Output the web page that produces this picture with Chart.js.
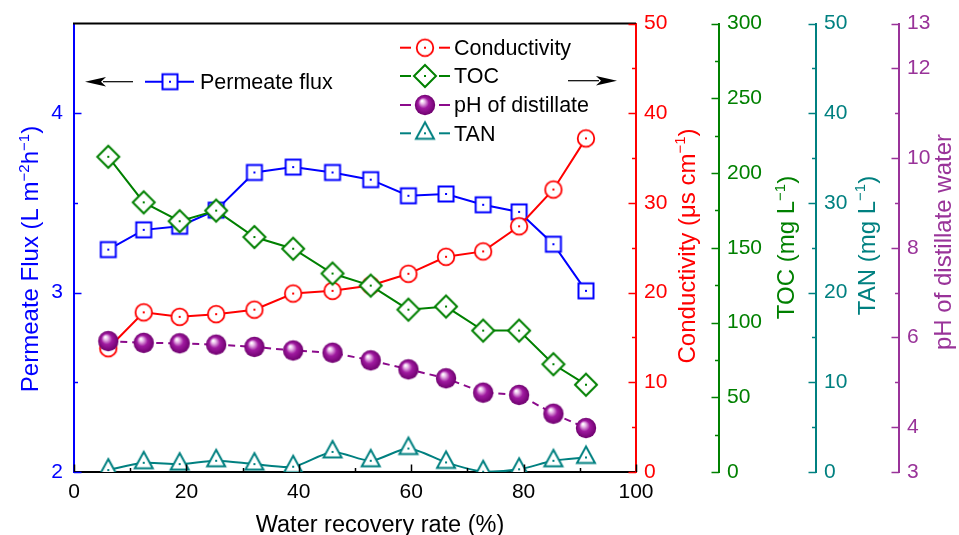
<!DOCTYPE html>
<html><head><meta charset="utf-8">
<script src="https://cdn.jsdelivr.net/npm/chart.js@4.4.1/dist/chart.umd.min.js"></script>
<style>html,body{margin:0;padding:0;background:#fff;overflow:hidden}#wrap{width:959px;height:535px;position:relative}</style>
</head><body><div id="wrap"><canvas id="c" width="959" height="535"></canvas></div>
<script>
// ---- data ----
const recovery = [6.1, 12.4, 18.8, 25.3, 32.1, 39.0, 46.0, 52.8, 59.5, 66.2, 72.8, 79.2, 85.3, 91.1];
const flux = [3.24, 3.35, 3.37, 3.46, 3.67, 3.70, 3.67, 3.63, 3.54, 3.55, 3.49, 3.45, 3.27, 3.01];
const conductivity = [13.8, 17.8, 17.3, 17.6, 18.1, 19.9, 20.2, 20.8, 22.1, 24.0, 24.6, 27.4, 31.5, 37.2];
const toc = [210.9, 180.4, 167.8, 174.9, 157.2, 149.4, 132.8, 124.7, 108.6, 110.7, 94.6, 94.6, 72.1, 58.4];
const phDistillate = [5.92, 5.88, 5.87, 5.84, 5.79, 5.71, 5.66, 5.49, 5.29, 5.09, 4.77, 4.72, 4.30, 3.98];
const tan = [0.22, 1.03, 0.88, 1.25, 0.88, 0.59, 2.24, 1.25, 2.62, 1.07, 0.03, 0.30, 1.25, 1.62];

// ---- tick labels ----
const xTicks = [0, 20, 40, 60, 80, 100];
const xMinor = [10, 30, 50, 70, 90];
const fluxTicks = [2, 3, 4];
const fluxMinor = [2.5, 3.5];
const condTicks = [0, 10, 20, 30, 40, 50];
const condMinor = [5, 15, 25, 35, 45];
const tocTicks = [0, 50, 100, 150, 200, 250, 300];
const tocMinor = [25, 75, 125, 175, 225, 275];
const tanTicks = [0, 10, 20, 30, 40, 50];
const tanMinor = [5, 15, 25, 35, 45];
const phTicks = [3, 4, 6, 8, 10, 12, 13];
const phMinor = [5, 7, 9, 11];

const legendRight = ['Conductivity', 'TOC', 'pH of distillate', 'TAN'];
const legendLeft = 'Permeate flux';

// ---- styles ----
const FONT = '"Liberation Sans", Arial, sans-serif';
const BLUE = '#0000FF', RED = '#FF0000', GREEN = '#008000', TEAL = '#008080', PURPLE = '#8B0A8B', PURPLE_AX = '#993399';

function mk(draw) {
  const c = document.createElement('canvas'); c.width = 30; c.height = 30;
  const g = c.getContext('2d'); draw(g, 15, 15); return c;
}
function dot(g, x, y, col) { g.fillStyle = col; g.fillRect(x - 1, y - 1, 2, 2); }
const imgSquare = mk((g, x, y) => { g.lineWidth = 2; g.fillStyle = '#fff'; g.strokeStyle = BLUE;
  g.fillRect(x - 7.5, y - 7.5, 15, 15); g.strokeRect(x - 7.5, y - 7.5, 15, 15); dot(g, x, y, BLUE); });
const imgCircle = mk((g, x, y) => { g.lineWidth = 1.8; g.fillStyle = '#fff'; g.strokeStyle = RED;
  g.beginPath(); g.arc(x, y, 8.3, 0, Math.PI * 2); g.fill(); g.stroke(); dot(g, x, y, RED); });
const imgDiamond = mk((g, x, y) => { g.lineWidth = 2; g.fillStyle = '#fff'; g.strokeStyle = GREEN;
  g.beginPath(); g.moveTo(x, y - 11); g.lineTo(x + 11, y); g.lineTo(x, y + 11); g.lineTo(x - 11, y); g.closePath();
  g.fill(); g.stroke(); dot(g, x, y, GREEN); });
const imgTriangle = mk((g, x, y) => { g.lineWidth = 2; g.fillStyle = '#fff'; g.strokeStyle = TEAL;
  g.beginPath(); g.moveTo(x, y - 11); g.lineTo(x + 9, y + 5.5); g.lineTo(x - 9, y + 5.5); g.closePath();
  g.fill(); g.stroke(); dot(g, x, y, TEAL); });
const imgSphere = mk((g, x, y) => {
  const r = 10.2;
  const gr = g.createRadialGradient(x - 3, y - 4, 0.5, x, y, r);
  gr.addColorStop(0, '#ffffff'); gr.addColorStop(0.18, '#e8b8e8'); gr.addColorStop(0.5, '#a01aa0'); gr.addColorStop(1, '#6e006e');
  g.fillStyle = gr; g.beginPath(); g.arc(x, y, r, 0, Math.PI * 2); g.fill(); });

const pts = arr => recovery.map((x, i) => ({ x: x, y: arr[i] }));
const fixTicks = arr => (s) => { s.ticks = arr.map(v => ({ value: v })); };

function yAxis(pos, min, max, ticks, color, width, pad) {
  return {
    type: 'linear', position: pos, min: min, max: max,
    afterBuildTicks: fixTicks(ticks),
    afterFit: (s) => { s.width = width; },
    grid: { display: false, drawTicks: false },
    border: { display: true, color: color, width: 2 },
    ticks: { color: color, font: { family: FONT, size: 21 }, padding: pad, autoSkip: false }
  };
}

function drawRich(ctx, segs, x, y, rot, size, color) {
  ctx.save(); ctx.translate(x, y); ctx.rotate(rot);
  ctx.fillStyle = color; ctx.textBaseline = 'alphabetic'; ctx.textAlign = 'left';
  const fN = size + 'px ' + FONT, fS = Math.round(size * 0.62) + 'px ' + FONT;
  let w = 0;
  segs.forEach(s => { ctx.font = s.sup ? fS : fN; w += ctx.measureText(s.t).width; });
  let cx = -w / 2;
  segs.forEach(s => { ctx.font = s.sup ? fS : fN; ctx.fillText(s.t, cx, s.sup ? -size * 0.38 : 0); cx += ctx.measureText(s.t).width; });
  ctx.restore();
}
function arrow(ctx, xFrom, xTip, y) {
  const dir = Math.sign(xTip - xFrom);
  ctx.save(); ctx.strokeStyle = '#000'; ctx.fillStyle = '#000'; ctx.lineWidth = 1.2;
  ctx.beginPath(); ctx.moveTo(xFrom, y); ctx.lineTo(xTip - dir * 18, y); ctx.stroke();
  ctx.beginPath(); ctx.moveTo(xTip, y); ctx.lineTo(xTip - dir * 21, y - 4.7); ctx.lineTo(xTip - dir * 16, y); ctx.lineTo(xTip - dir * 21, y + 4.7); ctx.closePath(); ctx.fill();
  ctx.restore();
}

const decor = {
  id: 'decor',
  afterDraw(chart) {
    const ctx = chart.ctx, a = chart.chartArea, S = chart.scales;
    ctx.save();
    // top frame line
    ctx.strokeStyle = '#000'; ctx.lineWidth = 2;
    ctx.beginPath(); ctx.moveTo(a.left - 1, a.top); ctx.lineTo(a.right, a.top); ctx.stroke();
    // inward tick marks
    const tickY = (sc, major, minor, color, side) => {
      ctx.strokeStyle = color; ctx.lineWidth = 1.5;
      const x0 = side === 'left' ? sc.right : sc.left;
      const d = side === 'left' ? 1 : -1;
      [[major, 7.5], [minor, 4]].forEach(([vals, len]) => vals.forEach(v => {
        const p = Math.round(sc.getPixelForValue(v)) + 0.5;
        ctx.beginPath(); ctx.moveTo(x0, p); ctx.lineTo(x0 + d * len, p); ctx.stroke();
      }));
    };
    tickY(S.y, fluxTicks, fluxMinor, BLUE, 'left');
    tickY(S.y1, condTicks, condMinor, RED, 'right');
    tickY(S.y2, tocTicks, tocMinor, GREEN, 'right');
    tickY(S.y3, tanTicks, tanMinor, TEAL, 'right');
    tickY(S.y4, phTicks, phMinor, PURPLE_AX, 'right');
    ctx.strokeStyle = '#000'; ctx.lineWidth = 1.5;
    [[xTicks, 7.5], [xMinor, 4]].forEach(([vals, len]) => vals.forEach(v => {
      const p = Math.round(S.x.getPixelForValue(v)) + 0.5;
      ctx.beginPath(); ctx.moveTo(p, a.bottom); ctx.lineTo(p, a.bottom - len); ctx.stroke();
    }));
    // axis titles
    const R = -Math.PI / 2;
    drawRich(ctx, [{ t: 'Permeate Flux (L m' }, { t: '−2', sup: 1 }, { t: 'h' }, { t: '−1', sup: 1 }, { t: ')' }], 38, 259, R, 24, BLUE);
    drawRich(ctx, [{ t: 'Conductivity (μs cm' }, { t: '−1', sup: 1 }, { t: ')' }], 694.5, 246, R, 24, RED);
    drawRich(ctx, [{ t: 'TOC (mg L' }, { t: '−1', sup: 1 }, { t: ')' }], 794, 247.5, R, 24, GREEN);
    drawRich(ctx, [{ t: 'TAN (mg L' }, { t: '−1', sup: 1 }, { t: ')' }], 874.5, 245.5, R, 24, TEAL);
    drawRich(ctx, [{ t: 'pH of distillate water' }], 951, 242, R, 24, PURPLE_AX);
    drawRich(ctx, [{ t: 'Water recovery rate (%)' }], 380, 532, 0, 23.5, '#000');
    // legends
    ctx.font = '21.5px ' + FONT; ctx.fillStyle = '#000'; ctx.textBaseline = 'alphabetic'; ctx.textAlign = 'left';
    const seg = (x1, x2, y, col, dash) => { ctx.save(); ctx.strokeStyle = col; ctx.lineWidth = 2; ctx.setLineDash(dash || []);
      ctx.beginPath(); ctx.moveTo(x1, y); ctx.lineTo(x2, y); ctx.stroke(); ctx.restore(); };
    // left legend
    seg(145, 194, 81.7, BLUE); ctx.drawImage(imgSquare, 170 - 15, 81.7 - 15);
    ctx.fillText(legendLeft, 200, 88.5);
    arrow(ctx, 133, 85, 81.7);
    // right legend
    const rows = [47.7, 76, 105, 133.3];
    const imgs = [imgCircle, imgDiamond, imgSphere, imgTriangle];
    const cols = [RED, GREEN, PURPLE, TEAL];
    rows.forEach((y, i) => {
      seg(400, 411, y, cols[i]); seg(439, 450, y, cols[i]);
      ctx.drawImage(imgs[i], 425 - 15, y - 15);
      ctx.fillStyle = '#000'; ctx.fillText(legendRight[i], 454, y + 7.3);
    });
    arrow(ctx, 568, 617, 80.7);
    ctx.restore();
  }
};

new Chart(document.getElementById('c'), {
  type: 'line',
  data: {
    datasets: [
      { label: 'Permeate flux', data: pts(flux), yAxisID: 'y', borderColor: BLUE, borderWidth: 2, pointStyle: imgSquare, pointRadius: 8, order: 5 },
      { label: 'Conductivity', data: pts(conductivity), yAxisID: 'y1', borderColor: RED, borderWidth: 2, pointStyle: imgCircle, pointRadius: 8, order: 4 },
      { label: 'TOC', data: pts(toc), yAxisID: 'y2', borderColor: GREEN, borderWidth: 2, pointStyle: imgDiamond, pointRadius: 8, order: 3 },
      { label: 'pH of distillate', data: pts(phDistillate), yAxisID: 'y4', borderColor: PURPLE, borderWidth: 2, borderDash: [7, 5], pointStyle: imgSphere, pointRadius: 8, order: 2 },
      { label: 'TAN', data: pts(tan), yAxisID: 'y3', borderColor: TEAL, borderWidth: 2, pointStyle: imgTriangle, pointRadius: 8, order: 1, tension: 0.25 }
    ]
  },
  options: {
    responsive: false, animation: false, devicePixelRatio: 1,
    layout: { padding: { top: 19, left: 0, right: 0, bottom: 0 } },
    plugins: { legend: { display: false }, tooltip: { enabled: false } },
    scales: {
      x: {
        type: 'linear', position: 'bottom', min: 0, max: 100,
        afterBuildTicks: fixTicks(xTicks),
        afterFit: (s) => { s.height = 63; },
        grid: { display: false, drawTicks: false },
        border: { display: true, color: '#000', width: 2 },
        ticks: { color: '#000', font: { family: FONT, size: 21 }, padding: 8, maxRotation: 0, autoSkip: false }
      },
      y: yAxis('left', 2, 4.5, fluxTicks, BLUE, 74, 11),
      y1: yAxis('right', 0, 50, condTicks, RED, 83, 8),
      y2: yAxis('right', 0, 300, tocTicks, GREEN, 97, 8),
      y3: yAxis('right', 0, 50, tanTicks, TEAL, 83, 8),
      y4: yAxis('right', 3, 13, phTicks, PURPLE_AX, 60, 8)
    }
  },
  plugins: [decor]
});
</script></body></html>
